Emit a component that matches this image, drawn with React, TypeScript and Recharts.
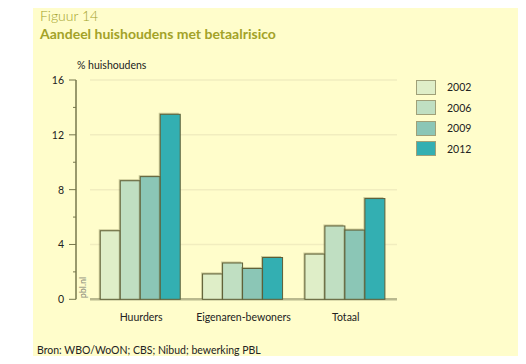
import { BarChart, Bar, XAxis, YAxis, CartesianGrid } from 'recharts';

const categories = ['Huurders', 'Eigenaren-bewoners', 'Totaal'];
const years = ['2002', '2006', '2009', '2012'];
const values2002 = [5.0, 1.85, 3.3];
const values2006 = [8.65, 2.65, 5.35];
const values2009 = [8.95, 2.25, 5.05];
const values2012 = [13.5, 3.05, 7.35];
const yTicks = [0, 2, 4, 6, 8, 10, 12, 14, 16];

const COLORS = ['#dfeec8', '#c0dfc2', '#8bc6b6', '#33afb2'];
const FONT = 'Lato, "Open Sans", sans-serif';
const OLIVE = '#a3a228';

const data = categories.map((name, i) => ({
  name,
  '2002': values2002[i],
  '2006': values2006[i],
  '2009': values2009[i],
  '2012': values2012[i],
}));

function ShadowBar(props: any) {
  const { x, y, width, height, fill } = props;
  if (!height) return null;
  return (
    <g>
      <rect x={x - 1.5} y={y - 1.5} width={width} height={height + 1.5} fill="rgba(110,110,60,0.35)" />
      <rect x={x} y={y} width={width} height={height} fill={fill} stroke="#5e5e36" strokeWidth={1} />
    </g>
  );
}

function YTick(props: any) {
  const { x, y, payload } = props;
  const major = payload.value % 4 === 0;
  return (
    <g>
      <line x1={x - (major ? 7 : 3)} x2={x} y1={y} y2={y} stroke="#77774c" strokeWidth={1} />
      {major && (
        <text x={x - 12} y={y} dy={4} textAnchor="end" fontSize={10.5} fontFamily={FONT} fill="#222">
          {payload.value}
        </text>
      )}
      {payload.value === 0 && (
        <text
          x={x + 10}
          y={y - 1}
          transform={`rotate(-90 ${x + 10} ${y - 1})`}
          fontSize={9}
          fontFamily={FONT}
          fill="#8a8a7a"
        >
          pbl.nl
        </text>
      )}
    </g>
  );
}

function LegendBox() {
  return (
    <div>
      {years.map((yr, i) => (
        <div key={yr} style={{ display: 'flex', alignItems: 'center', height: 20.5 }}>
          <div style={{
            width: 18, height: 13, background: COLORS[i],
            border: '1px solid #a0a078', boxSizing: 'content-box',
          }} />
          <span style={{ marginLeft: 11, fontSize: 10.5, fontFamily: FONT, color: '#222' }}>{yr}</span>
        </div>
      ))}
    </div>
  );
}

export default function App() {
  return (
    <div style={{ position: 'relative', width: 526, height: 364, margin: -8, background: '#fff', overflow: 'hidden' }}>
      <div style={{ position: 'absolute', left: 33, top: 0, right: 0, bottom: 0, background: '#fffdcb' }} />
      <div style={{ position: 'absolute', left: 40, top: 7, fontFamily: FONT, fontSize: 14, color: OLIVE, fontWeight: 300 }}>
        Figuur 14
      </div>
      <div style={{ position: 'absolute', left: 40, top: 25, fontFamily: FONT, fontSize: 14, color: OLIVE, fontWeight: 700 }}>
        Aandeel huishoudens met betaalrisico
      </div>
      <div style={{ position: 'absolute', left: 77, top: 59, fontFamily: FONT, fontSize: 10.5, color: '#222' }}>
        % huishoudens
      </div>
      <div style={{ position: 'absolute', left: 37, top: 344, fontFamily: FONT, fontSize: 10.5, color: '#222' }}>
        Bron: WBO/WoON; CBS; Nibud; bewerking PBL
      </div>
      <div style={{ position: 'absolute', left: 416, top: 77 }}>
        <LegendBox />
      </div>
      <div style={{ position: 'absolute', left: 0, top: 0 }}>
        <BarChart
          width={526}
          height={364}
          data={data}
          margin={{ top: 80, right: 129, bottom: 20, left: 36 }}
          barGap={0}
          barCategoryGap="10%"
        >
          <CartesianGrid x={90} width={307} vertical={false} horizontalValues={[4, 8, 12, 16]} stroke="#f1edbf" strokeWidth={1.5} />
          <CartesianGrid x={90} width={307} vertical={false} horizontalValues={[0]} stroke="#b9b98e" strokeWidth={2.5} />
          <XAxis
            dataKey="name"
            axisLine={false}
            tickLine={false}
            padding={{ left: 14, right: 0 }}
            height={44.7}
            tickMargin={8}
            tick={{ fontSize: 10.5, fontFamily: FONT, fill: '#222' }}
          />
          <YAxis
            width={40}
            domain={[0, 16]}
            ticks={yTicks}
            interval={0}
            tickSize={0}
            tickMargin={0}
            tickLine={false}
            axisLine={{ stroke: '#77774c', strokeWidth: 1.5 }}
            tick={<YTick />}
          />
          {years.map((yr, i) => (
            <Bar key={yr} dataKey={yr} fill={COLORS[i]} shape={<ShadowBar />} isAnimationActive={false} />
          ))}
        </BarChart>
      </div>
    </div>
  );
}
